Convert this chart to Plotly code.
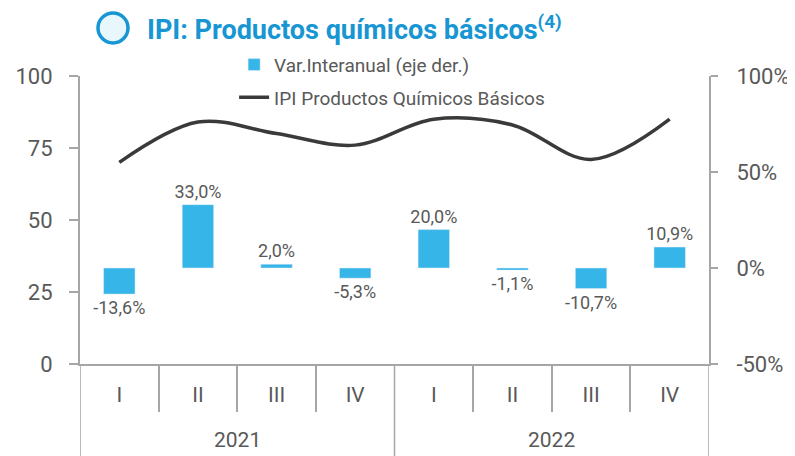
import plotly.graph_objects as go

# ── Data ──
years = ["2021", "2022"]
quarters = ["I", "II", "III", "IV"] * 2
var_interanual = [-13.6, 33.0, 2.0, -5.3, 20.0, -1.1, -10.7, 10.9]
ipi_quimicos = [70, 84, 80, 76, 85, 83, 71, 85]

GREY = "#595959"
AXIS = "#a6a6a6"
BLUE = "#36b5e8"
TITLE_BLUE = "#1796d3"

pos = list(range(len(quarters)))
labels = [f"{v:.1f}%".replace(".", ",") for v in var_interanual]

fig = go.Figure()
fig.add_trace(
    go.Bar(
        x=pos,
        y=var_interanual,
        name="Var.Interanual (eje der.)",
        legendgroup="a",
        marker_color=BLUE,
        yaxis="y2",
        text=labels,
        textposition="outside",
        textfont=dict(size=18, color=GREY),
        constraintext="none",
        cliponaxis=False,
        width=0.4,
    )
)
fig.add_trace(
    go.Scatter(
        x=pos,
        y=ipi_quimicos,
        name="IPI Productos Químicos Básicos",
        legendgroup="b",
        mode="lines",
        line=dict(color="#3a3a3c", width=3.5, shape="spline", smoothing=1.0),
    )
)

# the page body has an 8px margin, so the figure is 8px smaller than the window
fig.update_layout(
    width=787,
    height=448,
    margin=dict(l=72, r=86, t=68, b=92, autoexpand=False),
    paper_bgcolor="white",
    plot_bgcolor="white",
    font=dict(family="Roboto", color=GREY),
    showlegend=True,
    legend=dict(
        x=0.245, y=1.105, xanchor="left", yanchor="top",
        font=dict(size=19, color=GREY),
        bgcolor="rgba(0,0,0,0)",
        traceorder="grouped",
        tracegroupgap=5,
    ),
    xaxis=dict(
        range=[-0.5, 7.5],
        tickvals=pos, ticktext=quarters,
        showline=True, linecolor=AXIS, linewidth=2,
        ticks="", ticklabelstandoff=11,
        minor=dict(
            tickvals=[0.5, 1.5, 2.5, 4.5, 5.5, 6.5],
            ticks="outside", ticklen=46, tickcolor=AXIS, tickwidth=1.5,
        ),
        tickfont=dict(size=21, color=GREY),
        showgrid=False, zeroline=False,
    ),
    yaxis=dict(
        range=[0, 100], tickvals=[0, 25, 50, 75, 100],
        showline=True, linecolor=AXIS, linewidth=2,
        ticks="outside", tickcolor=AXIS, ticklen=9, tickwidth=1.5,
        ticklabelstandoff=12,
        tickfont=dict(size=22, color=GREY),
        showgrid=False, zeroline=False,
    ),
    yaxis2=dict(
        range=[-50, 100], tickvals=[-50, 0, 50, 100],
        ticktext=["-50%", "0%", "50%", "100%"],
        overlaying="y", side="right",
        showline=True, linecolor=AXIS, linewidth=2,
        ticks="outside", tickcolor=AXIS, ticklen=7, tickwidth=1.5,
        ticklabelstandoff=14,
        tickfont=dict(size=22, color=GREY),
        showgrid=False, zeroline=False,
    ),
)

# year separators and year labels below the quarter labels
for xb in [-0.5, 3.5, 7.5]:
    fig.add_shape(
        type="line", xref="x", yref="paper",
        x0=xb, x1=xb, y0=0, y1=-0.33,
        line=dict(color=AXIS, width=1.5),
    )
for i, yr in enumerate(years):
    fig.add_annotation(
        x=1.5 + 4 * i, y=-0.265, xref="x", yref="paper",
        text=yr, showarrow=False, yanchor="middle",
        font=dict(size=21, color=GREY),
    )

# title with circle icon
fig.add_shape(
    type="circle", xref="paper", yref="paper",
    x0=0.0286, x1=0.0763, y0=1.1146, y1=1.2188,
    line=dict(color=TITLE_BLUE, width=3.5), fillcolor="#e8f7fb",
)
fig.add_annotation(
    x=0.1033, y=1.1667, xref="paper", yref="paper",
    xanchor="left", yanchor="middle", showarrow=False,
    text="<b>IPI: Productos químicos básicos<sup>(4)</sup></b>",
    font=dict(size=27, color=TITLE_BLUE, family="Roboto"),
)

fig.write_html("out.html")
